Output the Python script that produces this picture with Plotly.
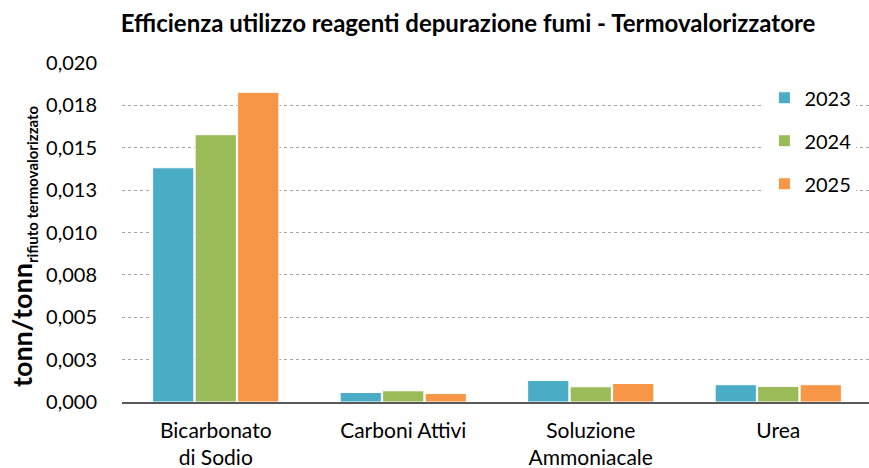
import plotly.graph_objects as go

categories = ["Bicarbonato<br>di Sodio", "Carboni Attivi", "Soluzione<br>Ammoniacale", "Urea"]
years = ["2023", "2024", "2025"]
values_2023 = [0.01382, 0.00056, 0.00127, 0.00102]
values_2024 = [0.01577, 0.00066, 0.00090, 0.00092]
values_2025 = [0.01827, 0.00050, 0.00109, 0.00102]
colors = ["#4BACC6", "#9BBB59", "#F79646"]
tick_vals = [0, 0.0025, 0.005, 0.0075, 0.01, 0.0125, 0.015, 0.0175, 0.02]
tick_text = ["0,000", "0,003", "0,005", "0,008", "0,010", "0,013", "0,015", "0,018", "0,020"]

FONT = "Lato"
fig = go.Figure()
for yr, vals, col in zip(years, [values_2023, values_2024, values_2025], colors):
    fig.add_trace(go.Bar(
        x=categories, y=vals, name=yr, legendgroup=yr,
        marker=dict(color=col, line=dict(color="white", width=1)),
    ))

fig.update_layout(
    width=869, height=468,
    margin=dict(l=122, r=0, t=63, b=66),
    paper_bgcolor="white", plot_bgcolor="white",
    barmode="group", bargap=0.32, bargroupgap=0.03,
    font=dict(family=FONT, color="#000000", size=20),
    title=dict(text="<b>Efficienza utilizzo reagenti depurazione fumi - Termovalorizzatore</b>",
               x=0.5386, xref="container", xanchor="center",
               y=0.9487, yref="container", yanchor="middle",
               font=dict(family=FONT, size=24, color="#000000")),
    legend=dict(x=0.86, y=0.955, xanchor="left", yanchor="top", bgcolor="white",
                font=dict(family=FONT, size=20), tracegroupgap=14, itemwidth=30),
    showlegend=True,
)
fig.update_xaxes(range=[-0.5, 3.484], showline=True, linecolor="#595959", linewidth=1.5,
                 ticks="", showgrid=False, tickfont=dict(family=FONT, size=21),
                 ticklabelstandoff=9, automargin=False)
fig.update_yaxes(range=[0, 0.02], tickvals=tick_vals, ticktext=tick_text,
                 showgrid=True, gridcolor="#a6a6a6", griddash="dot", gridwidth=1,
                 zeroline=False, showline=False, ticks="", ticklabelstandoff=24,
                 tickfont=dict(family=FONT, size=20), automargin=False)
fig.add_annotation(text="<b>tonn/tonn<sub><span style='font-size:15px'>rifiuto termovalorizzato</span></sub></b>",
                   xref="paper", yref="paper", x=0, y=0.46, xshift=-99,
                   xanchor="center", yanchor="middle", textangle=-90, showarrow=False,
                   font=dict(family=FONT, size=27, color="#000000"))
fig.write_html("out.html", config={"displayModeBar": False},
               post_script="document.body.style.margin='0';")
